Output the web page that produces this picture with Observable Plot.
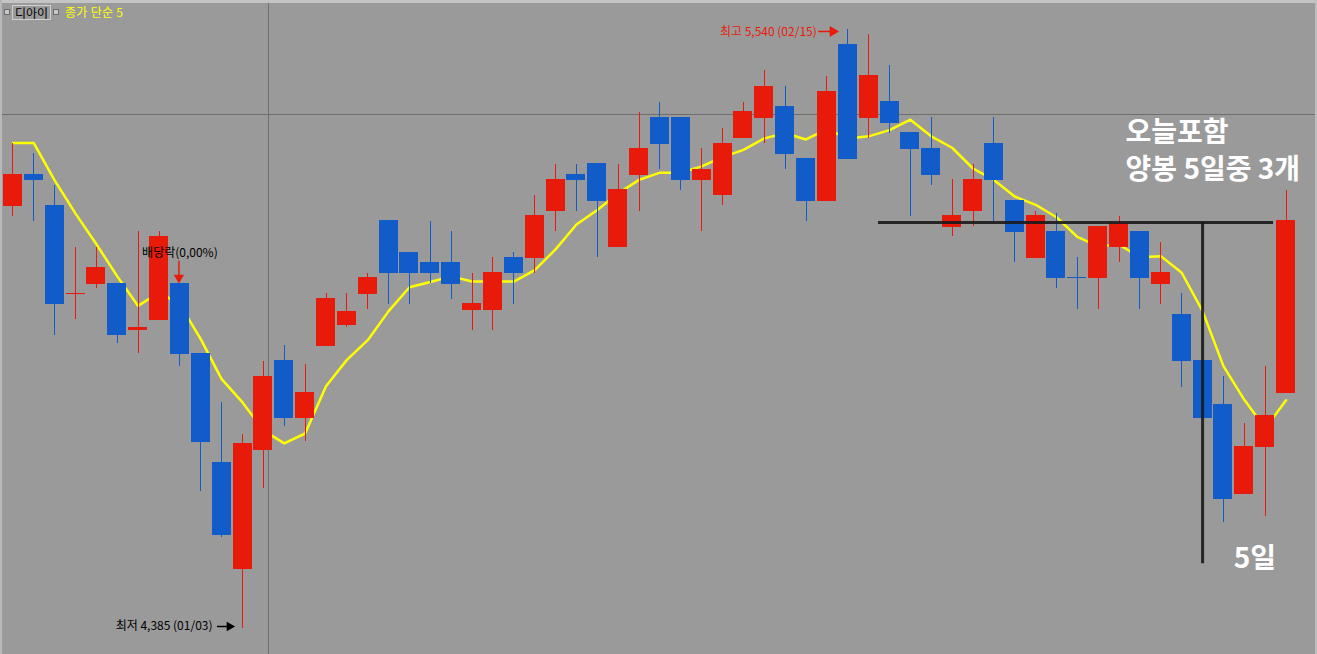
<!DOCTYPE html>
<html>
<head>
<meta charset="utf-8">
<script src="https://cdn.jsdelivr.net/npm/d3@7"></script>
<script src="https://cdn.jsdelivr.net/npm/@observablehq/plot@0.6"></script>
<style>
html, body { margin: 0; padding: 0; background: #9a9a9a; overflow: hidden; }
#wrap { position: relative; width: 1317px; height: 654px; overflow: hidden; }
#chart svg { display: block; }
.strip { position: absolute; background: #c4c4c4; }
.sq { position: absolute; width: 4px; height: 4px; background: #c8c8c8; border: 1px solid #6a6a6a; }
.name { position: absolute; left: 12px; top: 5px; width: 37px; height: 13px; border: 1px solid #cfcfcf;
  font: 12px/13px "Noto Sans CJK KR", sans-serif; color: #000; text-align: center; }
.ma { position: absolute; left: 65px; top: 4px; font: 12px/16px "Noto Sans CJK KR", sans-serif; color: #ffff00; letter-spacing: 0.3px; }
</style>
</head>
<body>
<div id="wrap">
  <div id="chart"></div>
  <div class="strip" style="left:0;top:0;width:1317px;height:3px"></div>
  <div class="strip" style="left:0;top:0;width:2px;height:654px;background:#b8b8b8"></div>
  <div class="strip" style="left:1315px;top:0;width:2px;height:654px;background:#bdbdbd"></div>
  <div class="sq" style="left:4px;top:9px"></div>
  <div class="name">디아이</div>
  <div class="sq" style="left:53px;top:9px"></div>
  <div class="ma">종가 단순 5</div>
</div>
<script>
// ---- data (daily candles, 2023-12-14 .. 2024-03-18) ----
const dates = ["12/14","12/15","12/18","12/19","12/20","12/21","12/22","12/26","12/27","12/28",
  "01/02","01/03","01/04","01/05","01/08","01/09","01/10","01/11","01/12","01/15",
  "01/16","01/17","01/18","01/19","01/22","01/23","01/24","01/25","01/26","01/29",
  "01/30","01/31","02/01","02/02","02/05","02/06","02/07","02/08","02/13","02/14",
  "02/15","02/16","02/19","02/20","02/21","02/22","02/23","02/26","02/27","02/28",
  "02/29","03/04","03/05","03/06","03/07","03/08","03/11","03/12","03/13","03/14",
  "03/15","03/18"];
const opens = [5200,5260,5200,5030,5050,5050,4960,4980,5050,4915,
  4705,4500,4730,4900,4790,4930,4970,5030,5170,5110,
  5090,5090,5000,5000,5100,5100,5190,5260,5280,5120,
  5260,5370,5370,5250,5220,5330,5370,5390,5290,5210,
  5510,5370,5400,5340,5310,5160,5190,5320,5210,5100,
  5150,5060,5060,5120,5150,5050,4990,4900,4815,4645,
  4735,4840];
const highs = [5320,5300,5240,5120,5120,5050,5150,5150,5050,4915,
  4820,4760,4900,4930,4895,5030,5030,5070,5170,5110,
  5170,5150,5070,5100,5110,5220,5280,5280,5280,5280,
  5380,5400,5370,5310,5350,5400,5460,5430,5290,5450,
  5540,5530,5470,5340,5370,5250,5280,5370,5210,5190,
  5185,5100,5160,5180,5150,5130,5030,4900,4870,4780,
  4890,5230];
const lows = [5180,5170,4950,4980,5040,4935,4915,4980,4890,4650,
  4560,4385,4655,4775,4745,4930,4965,5000,5010,5010,
  5050,5020,4960,4960,5010,5070,5150,5190,5100,5120,
  5190,5270,5230,5150,5200,5330,5320,5270,5170,5210,
  5290,5330,5340,5180,5240,5140,5160,5170,5090,5100,
  5040,5000,5000,5090,5000,5010,4850,4790,4590,4645,
  4600,4840];
const closes = [5260,5250,5010,5030,5080,4950,4965,5140,4915,4745,
  4565,4740,4870,4790,4840,5020,4995,5060,5070,5070,
  5070,5050,5010,5070,5070,5180,5250,5250,5210,5230,
  5310,5320,5250,5270,5320,5380,5430,5300,5210,5420,
  5290,5450,5360,5310,5260,5180,5250,5250,5150,5180,
  5060,5060,5160,5165,5060,5070,4900,4790,4635,4735,
  4795,5170];
// closes of the 4 sessions before the first visible candle (for the 5-day MA)
const priorCloses = [5250,5370,5350,5375];

// annotation values
const highMark = {label: "최고 5,540 (02/15)", i: 40, price: 5540};
const lowMark = {label: "최저 4,385 (01/03)", i: 11, price: 4385};
const exDiv = {label: "배당락(0,00%)", i: 8, price: 5050};
const notes = [
  {text: "오늘포함\n양봉 5일중 3개", i: 53.31, price: 5310},
  {text: "5일", i: 58.49, price: 4525}
];
const crossPrice = 5376, crossIndex = 12.245;
const handH = {price: 5168, from: 41.47, to: 60.4};
const handV = {i: 57, from: 5168, to: 4510};

// ---- build ----
const red = "#e81a0a", blue = "#115cc8";
const rows = dates.map((date, i) => {
  const prev = i > 0 ? closes[i - 1] : priorCloses[priorCloses.length - 1];
  const up = closes[i] > opens[i] || (closes[i] === opens[i] && closes[i] > prev);
  return {i, date, open: opens[i], high: highs[i], low: lows[i], close: closes[i], color: up ? red : blue};
});
const series = priorCloses.concat(closes);
const maRows = closes.map((c, i) => ({i, ma: d3.mean(series.slice(i, i + 5))}));

const half = 0.455;
const plot = Plot.plot({
  width: 1317, height: 654,
  marginTop: 0, marginRight: 0, marginBottom: 0, marginLeft: 0,
  style: {background: "#9a9a9a", fontFamily: "'Noto Sans CJK KR', sans-serif", overflow: "visible"},
  x: {type: "linear", domain: [-0.5, 61.5], range: [2, 1296], axis: null},
  y: {type: "linear", domain: [4385, 5540], range: [628, 29], axis: null},
  color: {type: "identity"},
  marks: [
    Plot.ruleY([crossPrice], {stroke: "#6e6e6e", strokeWidth: 1, shapeRendering: "crispEdges"}),
    Plot.ruleX([crossIndex], {stroke: "#6e6e6e", strokeWidth: 1, shapeRendering: "crispEdges"}),
    Plot.line(maRows, {x: "i", y: "ma", stroke: "#ffff00", strokeWidth: 2.5}),
    Plot.ruleX(rows, {x: "i", y1: "low", y2: "high", stroke: "color", strokeWidth: 1, shapeRendering: "crispEdges"}),
    Plot.rect(rows, {
      x1: d => d.i - half, x2: d => d.i + half,
      y1: d => Math.min(d.open, d.close), y2: d => Math.max(d.open, d.close),
      fill: "color", insetTop: -0.5, insetBottom: -0.5, shapeRendering: "crispEdges"
    }),
    // highest
    Plot.text([highMark], {x: "i", y: "price", text: "label", textAnchor: "end", dx: -31, dy: 3, fill: red, fontSize: 12}),
    Plot.ruleY([highMark], {y: "price", x1: d => d.i - 1.39, x2: d => d.i - 0.7, dy: 2, stroke: red, strokeWidth: 1.5}),
    Plot.dot([highMark], {x: "i", y: "price", dx: -15, dy: 2, symbol: "triangle", rotate: 90, r: 4, fill: red}),
    // lowest
    Plot.text([lowMark], {x: "i", y: "price", text: "label", textAnchor: "end", dx: -30, dy: -2, fill: "#000", fontSize: 12}),
    Plot.ruleY([lowMark], {y: "price", x1: d => d.i - 1.2, x2: d => d.i - 0.55, dy: -2, stroke: "#000", strokeWidth: 1.5}),
    Plot.dot([lowMark], {x: "i", y: "price", dx: -13, dy: -2, symbol: "triangle", rotate: 90, r: 3.6, fill: "#000"}),
    // ex-dividend
    Plot.text([exDiv], {x: "i", y: "price", text: "label", dy: -30, fill: "#000", fontSize: 12}),
    Plot.ruleX([exDiv], {x: "i", y1: d => d.price + 43, y2: d => d.price + 12, dx: -1, stroke: red, strokeWidth: 1.5}),
    Plot.dot([exDiv], {x: "i", y: "price", dx: -1, dy: -6, symbol: "triangle", rotate: 180, r: 3.8, fill: red}),
    // hand-drawn lines
    Plot.ruleY([handH], {y: "price", x1: "from", x2: "to", stroke: "#1a1a1a", strokeWidth: 3, strokeOpacity: 0.9}),
    Plot.ruleX([handV], {x: "i", y1: "from", y2: "to", stroke: "#1a1a1a", strokeWidth: 3, strokeOpacity: 0.9}),
    // notes
    Plot.text(notes, {x: "i", y: "price", text: "text", textAnchor: "start", lineAnchor: "middle", lineHeight: 1.3,
      fill: "#ffffff", fontSize: 28, fontWeight: "bold", letterSpacing: "-2.5px"})
  ]
});
document.getElementById("chart").appendChild(plot);
</script>
</body>
</html>
